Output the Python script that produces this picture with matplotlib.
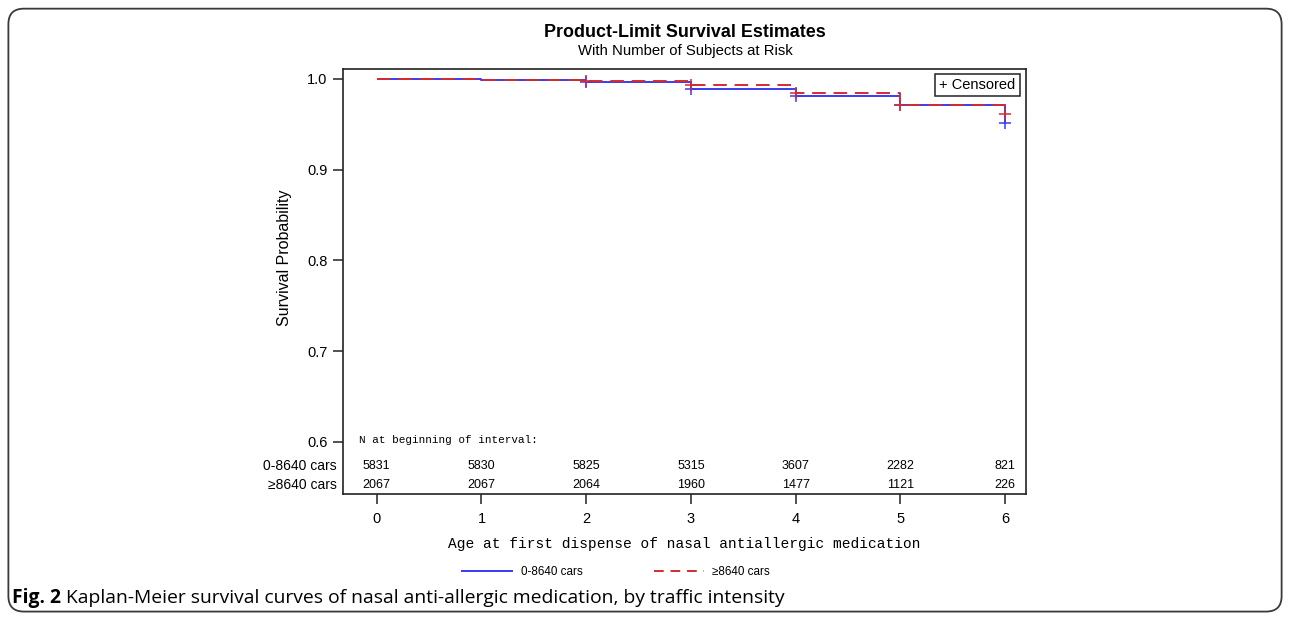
import matplotlib
matplotlib.use("Agg")
import matplotlib.pyplot as plt
from matplotlib.patches import FancyBboxPatch
from matplotlib.lines import Line2D

# Kaplan-Meier estimates by year of age
years = [0, 1, 2, 3, 4, 5, 6]
surv_low = [1.0, 0.9989, 0.9963, 0.9890, 0.9813, 0.9710, 0.9510]
surv_high = [1.0, 0.9989, 0.9978, 0.9932, 0.9849, 0.9710, 0.9614]
censor_years = [2, 3, 4, 5, 6]

group_labels = ["0-8640 cars", "\u22658640 cars"]
at_risk_low = [5831, 5830, 5825, 5315, 3607, 2282, 821]
at_risk_high = [2067, 2067, 2064, 1960, 1477, 1121, 226]

title = "Product-Limit Survival Estimates"
subtitle = "With Number of Subjects at Risk"
xlabel = "Age at first dispense of nasal antiallergic medication"
ylabel = "Survival Probability"
caption_bold = "Fig. 2"
caption = " Kaplan-Meier survival curves of nasal anti-allergic medication, by traffic intensity"

BLUE = "#3a3af5"
RED = "#d42b30"
sans = ["Liberation Sans", "DejaVu Sans"]
narrow = ["Liberation Sans Narrow", "Liberation Sans", "DejaVu Sans"]
mono = ["Liberation Mono", "DejaVu Sans Mono"]
label_font = ["Open Sans", "DejaVu Sans"]

fig = plt.figure(figsize=(12.9, 6.19), dpi=100)
fig.patch.set_facecolor("white")

# rounded frame around the figure panel
frame = FancyBboxPatch((0.0065, 0.012), 0.987, 0.974, boxstyle="round,pad=0,rounding_size=0.012",
                       transform=fig.transFigure, fill=False, edgecolor="#3a3a3a", lw=1.3,
                       mutation_aspect=1290 / 619)
fig.patches.append(frame)

ax = fig.add_axes([0.2657, 0.2019, 0.5296, 0.6866])
ax.set_xlim(-0.325, 6.20)
ax.set_ylim(0.5423, 1.011)


def km_curve(s):
    xs, ys = [], []
    for i, t in enumerate(years[:-1]):
        xs += [t, years[i + 1]]
        ys += [s[i], s[i]]
    xs.append(years[-1])
    ys.append(s[-1])
    return xs, ys


xl, yl = km_curve(surv_low)
xh, yh = km_curve(surv_high)
ax.plot(xl, yl, color=BLUE, lw=1.4, solid_capstyle="butt")
ax.plot(xh, yh, color=RED, lw=1.4, dashes=(7, 4))
ax.plot(censor_years, [surv_low[years.index(t)] for t in censor_years], ls="none",
        marker="+", ms=9, mew=1.1, color=BLUE)
ax.plot(censor_years, [surv_high[years.index(t)] for t in censor_years], ls="none",
        marker="+", ms=9, mew=1.1, color=RED)

ax.set_xticks(years)
ax.set_xticklabels([str(t) for t in years], family=sans, fontsize=10.5)
ax.set_yticks([0.6, 0.7, 0.8, 0.9, 1.0])
ax.set_yticklabels(["0.6", "0.7", "0.8", "0.9", "1.0"], family=sans, fontsize=10.5)
ax.tick_params(direction="out", length=7, width=1.1, color="#222222", pad=4)
ax.tick_params(axis="x", pad=6)
for sp in ax.spines.values():
    sp.set_linewidth(1.2)
    sp.set_color("#222222")

ax.set_ylabel(ylabel, family=sans, fontsize=11.5)
ax.yaxis.set_label_coords(-0.074, 0.557)
ax.set_xlabel(xlabel, family=mono, fontsize=10.45, labelpad=8)

# censored key in upper right
ax.text(0.985, 0.978, "+ Censored", transform=ax.transAxes, ha="right", va="top",
        family=sans, fontsize=10.5,
        bbox=dict(boxstyle="square,pad=0.28", fc="white", ec="#222222", lw=1.1))

# number at risk table
ax.text(-0.17, 0.6023, "N at beginning of interval:", family=mono, fontsize=7.9, va="center")
row_y = [0.5737, 0.5527]
for vals, y in zip([at_risk_low, at_risk_high], row_y):
    for t, n in zip(years, vals):
        ax.text(t, y, str(n), ha="center", va="center", family=narrow, fontsize=9)
for lab, y in zip(group_labels, row_y):
    ax.text(-0.009, y, lab, transform=ax.get_yaxis_transform(), ha="right", va="center",
            family=narrow, fontsize=10)

fig.text(0.531, 0.947, title, ha="center", va="center", family=sans, fontsize=12.9,
         fontweight="bold")
fig.text(0.531, 0.918, subtitle, ha="center", va="center", family=sans, fontsize=10.7)

# group legend below the axis title
handles = [Line2D([], [], color=BLUE, lw=1.4),
           Line2D([], [], color=RED, lw=1.4, dashes=(5, 3.5))]
fig.legend(handles, group_labels, loc="center", bbox_to_anchor=(0.4775, 0.076),
           ncol=2, frameon=False, handlelength=4.3, columnspacing=6.1, handletextpad=0.7,
           prop={"family": narrow, "size": 8.4})

# caption
fig.canvas.draw()
renderer = fig.canvas.get_renderer()
t1 = fig.text(0.0095, 0.034, caption_bold, ha="left", va="center",
              family=label_font, fontsize=13.9, fontweight="bold")
bb = t1.get_window_extent(renderer)
x_after = bb.x1 / fig.bbox.width
fig.text(x_after, 0.034, caption, ha="left", va="center",
         family=label_font, fontsize=13.9)

fig.savefig("out.png", dpi=100)
